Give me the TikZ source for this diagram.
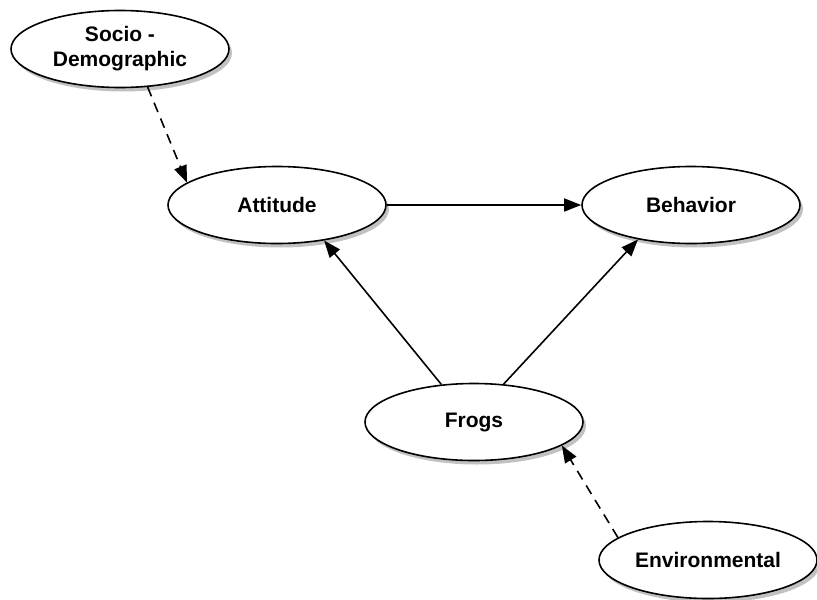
\documentclass[tikz,border=0pt]{standalone}
\usepackage{fontspec}
\setmainfont{Liberation Sans}
\usetikzlibrary{shapes.geometric,arrows.meta,shadows}
\begin{document}
\begin{tikzpicture}[x=1pt,y=-1pt,
  oval/.style={ellipse,draw=black,line width=1.6pt,fill=white,
    minimum width=218pt,minimum height=77pt,inner sep=0pt,align=center,
    font=\fontsize{21}{25}\selectfont\bfseries,
    drop shadow={shadow xshift=3pt,shadow yshift=-4pt,opacity=0.35,fill=black!70}},
  conn/.style={line width=1.6pt,-{Triangle[length=17pt,width=13pt]}},
  dconn/.style={conn,dash pattern=on 10pt off 7pt}]
\useasboundingbox (0,0) rectangle (817,600);
\node[oval] (socio) at (120,49) {Socio -\\Demographic};
\node[oval] (att) at (277,205) {Attitude};
\node[oval] (beh) at (691,205) {Behavior};
\node[oval] (frogs) at (474,422) {Frogs};
\node[oval] (env) at (708,560) {Environmental};
\draw[dconn] (socio.-54) -- (att.166);
\draw[conn] (att.east) -- (beh.west);
\draw[conn] (frogs.131) -- (att.-37);
\draw[conn] (frogs.52) -- (beh.213);
\draw[dconn] (env.166) -- (frogs.-15);
\end{tikzpicture}
\end{document}
